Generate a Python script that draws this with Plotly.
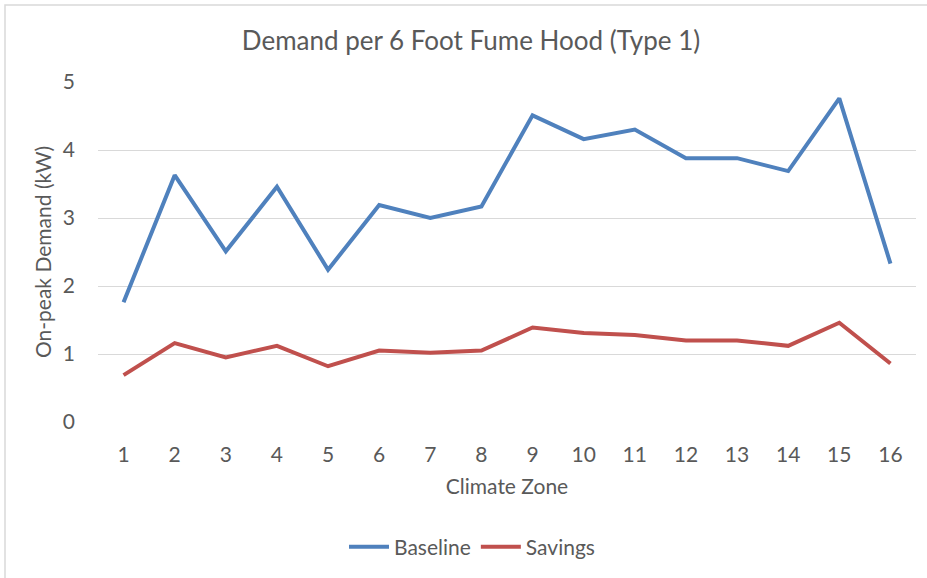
import plotly.graph_objects as go

# Climate zones and on-peak demand per 6 ft fume hood (kW)
zones = [str(z) for z in range(1, 17)]
baseline = [1.76, 3.63, 2.51, 3.46, 2.24, 3.19, 3.00, 3.17,
            4.51, 4.16, 4.30, 3.88, 3.88, 3.69, 4.76, 2.33]
savings = [0.69, 1.16, 0.95, 1.12, 0.82, 1.05, 1.02, 1.05,
           1.39, 1.31, 1.28, 1.20, 1.20, 1.12, 1.46, 0.86]
y_ticks = [0, 1, 2, 3, 4, 5]

FONT = "Lato"
TXT = "#595959"
GRID = "#d9d9d9"
FS = 21

W, H = 927, 578
ML, MR, MT, MB = 98, 11, 82, 156
pw, ph = W - ML - MR, H - MT - MB


def px_to_paper_x(px):
    return (px - ML) / pw


def px_to_paper_y(py):
    return (H - MB - py) / ph


fig = go.Figure()
fig.add_trace(go.Scatter(x=zones, y=baseline, mode="lines", name="Baseline",
                         line=dict(color="#4F81BD", width=4)))
fig.add_trace(go.Scatter(x=zones, y=savings, mode="lines", name="Savings",
                         line=dict(color="#C0504D", width=4)))

# chart-area border
fig.add_shape(type="rect", xref="paper", yref="paper",
              x0=px_to_paper_x(5), x1=px_to_paper_x(W + 5),
              y0=px_to_paper_y(H + 5), y1=px_to_paper_y(5),
              line=dict(color=GRID, width=1.5), layer="below")

fig.update_layout(
    width=W, height=H,
    margin=dict(l=ML, r=MR, t=MT, b=MB),
    paper_bgcolor="white", plot_bgcolor="white",
    font=dict(family=FONT, color=TXT, size=FS),
    title=dict(text="Demand per 6 Foot Fume Hood (Type 1)",
               x=px_to_paper_x(471), xref="paper", xanchor="center",
               y=1 - 41 / H, yanchor="middle",
               font=dict(family=FONT, size=26, color=TXT)),
    xaxis=dict(type="category", range=[-0.5, len(zones) - 0.5],
               showgrid=False, showline=False, zeroline=False,
               ticks="", ticklabelstandoff=18,
               tickfont=dict(size=FS, color=TXT),
               title=dict(text="Climate Zone", font=dict(size=FS, color=TXT),
                          standoff=14)),
    yaxis=dict(range=[0, 5], tickvals=y_ticks, showgrid=True, gridcolor=GRID,
               gridwidth=1.3, zeroline=False, showline=False, ticks="",
               ticklabelstandoff=22,
               tickfont=dict(size=FS, color=TXT),
               title=dict(text="On-peak Demand (kW)",
                          font=dict(size=FS, color=TXT), standoff=5)),
    legend=dict(orientation="h", x=px_to_paper_x(472), xanchor="center",
                y=px_to_paper_y(547), yanchor="middle",
                font=dict(size=FS, color=TXT), itemwidth=40,
                bgcolor="rgba(0,0,0,0)"),
    showlegend=True,
)

fig.write_html("out.html")
